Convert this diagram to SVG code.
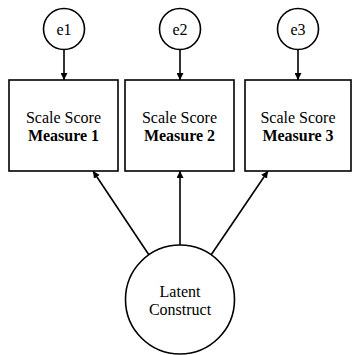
<svg xmlns="http://www.w3.org/2000/svg" width="352" height="355" viewBox="0 0 352 355">
  <style>
    .shape { fill: #fff; stroke: #000; stroke-width: 1.6; }
    .edge { fill: none; stroke: #000; stroke-width: 1.6; }
    .lbl { font-size: 16px; fill: #000; text-anchor: middle; }
    .b { font-weight: bold; }
  </style>
  <defs>
    <marker id="arrow" viewBox="0 0 10 10" refX="10" refY="5" markerWidth="7" markerHeight="7" markerUnits="userSpaceOnUse" orient="auto">
      <path d="M0,0 L10,5 L0,10 z" fill="#000"/>
    </marker>
  </defs>

  <g id="connectors">
    <line class="edge" x1="64" y1="50" x2="64" y2="80" marker-end="url(#arrow)"/>
    <line class="edge" x1="180" y1="50" x2="180" y2="80" marker-end="url(#arrow)"/>
    <line class="edge" x1="298" y1="50" x2="298" y2="80" marker-end="url(#arrow)"/>
    <line class="edge" x1="149" y1="255" x2="93" y2="171" marker-end="url(#arrow)"/>
    <line class="edge" x1="180" y1="245" x2="180" y2="171" marker-end="url(#arrow)"/>
    <line class="edge" x1="211" y1="255" x2="268" y2="171" marker-end="url(#arrow)"/>
  </g>

  <g font-family="Liberation Serif, Tinos, Times New Roman, DejaVu Serif, serif">
    <g id="e1">
      <circle class="shape" cx="64" cy="29" r="20.5"/>
      <text class="lbl" x="64" y="35">e1</text>
    </g>
    <g id="e2">
      <circle class="shape" cx="180" cy="29" r="20.5"/>
      <text class="lbl" x="180" y="35">e2</text>
    </g>
    <g id="e3">
      <circle class="shape" cx="298" cy="29" r="20.5"/>
      <text class="lbl" x="298" y="35">e3</text>
    </g>

    <g id="measure1">
      <rect class="shape" x="9" y="80" width="109" height="91"/>
      <text class="lbl" x="63.5" y="123">Scale Score</text>
      <text class="lbl b" x="63.5" y="141">Measure 1</text>
    </g>
    <g id="measure2">
      <rect class="shape" x="125" y="80" width="109" height="91"/>
      <text class="lbl" x="179.5" y="123">Scale Score</text>
      <text class="lbl b" x="179.5" y="141">Measure 2</text>
    </g>
    <g id="measure3">
      <rect class="shape" x="245" y="80" width="106" height="91"/>
      <text class="lbl" x="298" y="123">Scale Score</text>
      <text class="lbl b" x="298" y="141">Measure 3</text>
    </g>

    <g id="latent">
      <circle class="shape" cx="180" cy="299.5" r="54.5"/>
      <text class="lbl" x="180" y="297">Latent</text>
      <text class="lbl" x="180" y="315">Construct</text>
    </g>
  </g>
</svg>
